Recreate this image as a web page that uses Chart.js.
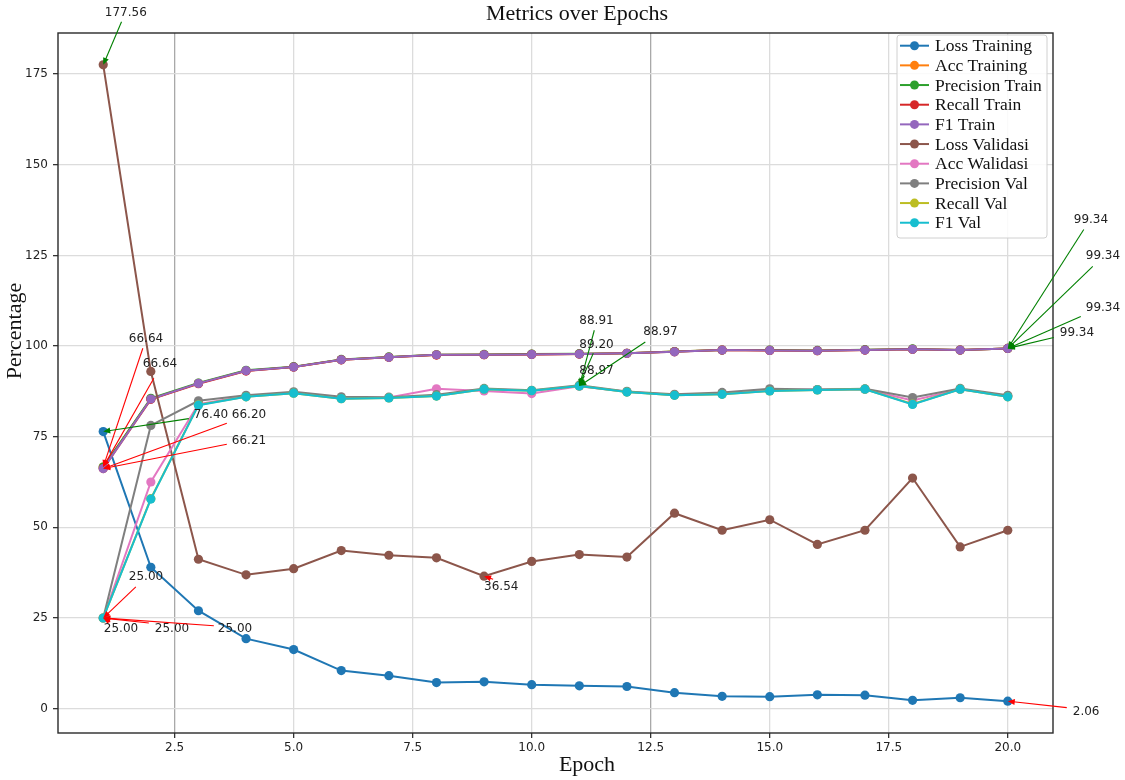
<!DOCTYPE html>
<html>
<head>
<meta charset="utf-8">
<script src="https://cdn.jsdelivr.net/npm/chart.js@4.4.1/dist/chart.umd.min.js"></script>
<style>
html,body{margin:0;padding:0;background:#fff;}
#wrap{width:1125px;height:780px;}
</style>
</head>
<body>
<div id="wrap"><canvas id="c" width="1125" height="780" style="width:1125px;height:780px"></canvas></div>
<script>
// ---- data ----
const epochs = [1,2,3,4,5,6,7,8,9,10,11,12,13,14,15,16,17,18,19,20];
const seriesNames = ["Loss Training","Acc Training","Precision Train","Recall Train","F1 Train","Loss Validasi","Acc Walidasi","Precision Val","Recall Val","F1 Val"];
const lossTraining   = [76.40,39.0,27.0,19.3,16.3,10.5,9.1,7.2,7.4,6.6,6.3,6.1,4.4,3.4,3.3,3.8,3.7,2.3,3.0,2.06];
const accTraining    = [66.64,85.4,89.7,93.2,94.2,96.2,96.9,97.6,97.6,97.7,97.8,98.0,98.5,98.9,98.8,98.7,98.9,99.1,98.9,99.34];
const precisionTrain = [66.64,85.6,89.8,93.3,94.3,96.3,97.0,97.6,97.7,97.8,97.9,98.0,98.5,98.9,98.9,98.8,99.0,99.2,98.9,99.34];
const recallTrain    = [66.20,85.3,89.6,93.1,94.2,96.2,96.9,97.5,97.6,97.7,97.8,98.0,98.4,98.9,98.8,98.7,98.9,99.1,98.9,99.34];
const f1Train        = [66.21,85.4,89.7,93.2,94.2,96.2,96.9,97.6,97.6,97.7,97.8,98.0,98.4,98.9,98.8,98.7,98.9,99.1,98.9,99.34];
const lossValidasi   = [177.56,93.0,41.2,36.9,38.6,43.6,42.3,41.6,36.54,40.6,42.5,41.8,53.9,49.2,52.1,45.3,49.2,63.6,44.6,49.2];
const accWalidasi    = [25.00,62.5,84.0,86.2,87.1,85.6,85.8,88.2,87.6,86.9,88.91,87.4,86.5,86.9,87.8,88.0,88.1,85.0,88.1,86.2];
const precisionVal   = [25.00,78.1,84.9,86.4,87.4,86.0,85.9,86.6,88.3,87.8,89.20,87.5,86.7,87.2,88.2,88.0,88.2,85.8,88.3,86.4];
const recallVal      = [25.00,57.9,83.8,86.0,87.0,85.5,85.7,86.2,88.1,87.7,88.97,87.3,86.4,86.7,87.6,87.9,88.1,84.0,88.1,86.0];
const f1Val          = [25.00,57.8,83.7,86.0,87.0,85.5,85.7,86.2,88.1,87.7,88.97,87.3,86.4,86.7,87.6,87.9,88.1,83.9,88.1,86.0];
const seriesValues = [lossTraining,accTraining,precisionTrain,recallTrain,f1Train,lossValidasi,accWalidasi,precisionVal,recallVal,f1Val];
const xTicks = [2.5,5.0,7.5,10.0,12.5,15.0,17.5,20.0];
const yTicks = [0,25,50,75,100,125,150,175];
const titleText = "Metrics over Epochs";
const xLabel = "Epoch";
const yLabel = "Percentage";

// ---- styles ----
const colors = ["#1f77b4","#ff7f0e","#2ca02c","#d62728","#9467bd","#8c564b","#e377c2","#7f7f7f","#bcbd22","#17becf"];
const SERIF = "'Liberation Serif','Times New Roman',serif";
const SANS = "'DejaVu Sans',sans-serif";

// annotation placement (pixel offsets from the annotated point)
const annotations = [
  {s:5, kind:'max', color:'green', t:[1.6,-49.2], a:[18.3,-43]},
  {s:1, kind:'min', color:'red', t:[25.6,-124.8], a:[39.6,-118.8]},
  {s:2, kind:'min', color:'red', t:[39.6,-99.8], a:[50.6,-88.8]},
  {s:0, kind:'max', color:'green', t:[90.6,-13.4], a:[85.6,-13]},
  {s:3, kind:'min', color:'red', t:[128.6,-50.4], a:[123.6,-45.4]},
  {s:4, kind:'min', color:'red', t:[128.6,-24.4], a:[123.6,-24.4]},
  {s:6, kind:'min', color:'red', t:[25.6,-38.2], a:[32.6,-31.2]},
  {s:7, kind:'min', color:'red', t:[0.6,13.8], a:[7,4]},
  {s:8, kind:'min', color:'red', t:[51.6,13.8], a:[45.6,5]},
  {s:9, kind:'min', color:'red', t:[114.6,13.8], a:[110.6,7.8]},
  {s:5, kind:'min', color:'red', t:[0,14], a:[9,3]},
  {s:6, kind:'max', color:'green', t:[0,-62], a:[15,-56]},
  {s:7, kind:'max', color:'green', t:[0,-37], a:[14,-32]},
  {s:8, kind:'max', color:'green', t:[0,-12], a:[5,-10]},
  {s:9, kind:'max', color:'green', t:[64,-51], a:[66,-44]},
  {s:1, kind:'max', color:'green', t:[66,-125], a:[76,-119]},
  {s:2, kind:'max', color:'green', t:[78,-89], a:[85,-82]},
  {s:3, kind:'max', color:'green', t:[78,-37], a:[73,-32]},
  {s:4, kind:'max', color:'green', t:[52,-12], a:[46,-11]},
  {s:0, kind:'min', color:'red', t:[65,13.5], a:[59,6.5]}
];

function drawArrow(ctx, x0, y0, x1, y1, color){
  const dx = x1-x0, dy = y1-y0, len = Math.hypot(dx,dy);
  const ux = dx/(len||1), uy = dy/(len||1);
  const hl = 7, hw = 3;
  ctx.save();
  ctx.strokeStyle = color; ctx.fillStyle = color; ctx.lineWidth = 1.1;
  if (len > hl){
    ctx.beginPath(); ctx.moveTo(x0,y0); ctx.lineTo(x1-ux*hl*0.8, y1-uy*hl*0.8); ctx.stroke();
  }
  ctx.beginPath();
  ctx.moveTo(x1,y1);
  ctx.lineTo(x1-ux*hl-uy*hw, y1-uy*hl+ux*hw);
  ctx.lineTo(x1-ux*hl+uy*hw, y1-uy*hl-ux*hw);
  ctx.closePath(); ctx.fill();
  ctx.restore();
}

const decor = {
  id:'decor',
  beforeDraw(chart){
    const ctx = chart.ctx;
    ctx.save(); ctx.fillStyle='#fff'; ctx.fillRect(0,0,chart.width,chart.height); ctx.restore();
  },
  afterDatasetsDraw(chart){
    const ctx = chart.ctx, ca = chart.chartArea;
    // frame
    ctx.save();
    ctx.strokeStyle = '#2a2a2a'; ctx.lineWidth = 1.4;
    ctx.strokeRect(ca.left, ca.top, ca.right-ca.left, ca.bottom-ca.top);
    ctx.restore();
    // annotations
    ctx.save();
    ctx.font = "12px " + SANS;
    ctx.textAlign = 'left'; ctx.textBaseline = 'alphabetic';
    annotations.forEach(an => {
      const vals = seriesValues[an.s];
      const v = an.kind === 'max' ? Math.max(...vals) : Math.min(...vals);
      const idx = vals.indexOf(v);
      const pt = chart.getDatasetMeta(an.s).data[idx];
      drawArrow(ctx, pt.x+an.a[0], pt.y+an.a[1], pt.x, pt.y, an.color);
      ctx.fillStyle = '#222';
      ctx.fillText(v.toFixed(2), pt.x+an.t[0], pt.y+an.t[1]);
    });
    ctx.restore();
    // legend
    const bx = ca.right - 156, by = ca.top + 2, bw = 150, bh = 203, rowH = 19.67;
    ctx.save();
    ctx.globalAlpha = 0.85; ctx.fillStyle = '#fff';
    ctx.beginPath(); ctx.roundRect(bx, by, bw, bh, 3); ctx.fill();
    ctx.globalAlpha = 1; ctx.strokeStyle = '#d0d0d0'; ctx.lineWidth = 1; ctx.stroke();
    ctx.font = "17.5px " + SERIF; ctx.textBaseline = 'middle'; ctx.textAlign='left';
    chart.data.datasets.forEach((ds, i) => {
      const y = by + 10.7 + i*rowH;
      ctx.strokeStyle = ds.borderColor; ctx.lineWidth = 2;
      ctx.beginPath(); ctx.moveTo(bx+3, y); ctx.lineTo(bx+32, y); ctx.stroke();
      ctx.fillStyle = ds.borderColor;
      ctx.beginPath(); ctx.arc(bx+17.5, y, 4.5, 0, Math.PI*2); ctx.fill();
      ctx.fillStyle = '#111';
      ctx.fillText(ds.label, bx+38, y+1);
    });
    ctx.restore();
    // titles
    ctx.save();
    ctx.fillStyle = '#111';
    ctx.font = "22px " + SERIF; ctx.textAlign = 'center'; ctx.textBaseline = 'alphabetic';
    ctx.fillText(titleText, 577, 20);
    ctx.fillText(xLabel, 587, 771);
    ctx.translate(21, 331); ctx.rotate(-Math.PI/2);
    ctx.fillText(yLabel, 0, 0);
    ctx.restore();
  }
};

const n = seriesNames.length;
const datasets = seriesNames.map((name, i) => ({
  label: name,
  data: epochs.map((e, j) => ({x: e, y: seriesValues[i][j]})),
  borderColor: colors[i],
  backgroundColor: colors[i],
  pointBackgroundColor: colors[i],
  pointBorderWidth: 0,
  pointRadius: 4.6,
  borderWidth: 2,
  tension: 0,
  fill: false,
  order: n - i
}));

const tickFont = {family: SANS, size: 12};
new Chart(document.getElementById('c'), {
  type: 'line',
  data: {datasets},
  plugins: [decor],
  options: {
    responsive: false,
    animation: false,
    devicePixelRatio: 1,
    layout: {padding: {top: 33, right: 72, bottom: 0, left: 0}},
    plugins: {legend: {display: false}, title: {display: false}, tooltip: {enabled: false}},
    scales: {
      x: {
        type: 'linear', min: 0.05, max: 20.95,
        afterBuildTicks: s => { s.ticks = xTicks.map(v => ({value: v})); },
        afterFit: s => { s.height = 47; },
        ticks: {callback: v => Number(v).toFixed(1), font: tickFont, color: '#222', padding: 3, maxRotation: 0, autoSkip: false},
        grid: {color: c => (c.tick && (c.tick.value === 2.5 || c.tick.value === 12.5)) ? '#a9a9a9' : '#dcdcdc', lineWidth: 1.3, tickColor: '#333', tickLength: 5},
        border: {display: false}
      },
      y: {
        type: 'linear', min: -6.72, max: 186.34,
        afterBuildTicks: s => { s.ticks = yTicks.map(v => ({value: v})); },
        afterFit: s => { s.width = 58; },
        ticks: {callback: v => String(v), font: tickFont, color: '#222', padding: 5, autoSkip: false},
        grid: {color: '#dcdcdc', lineWidth: 1.3, tickColor: '#333', tickLength: 5},
        border: {display: false}
      }
    }
  }
});
</script>
</body>
</html>
